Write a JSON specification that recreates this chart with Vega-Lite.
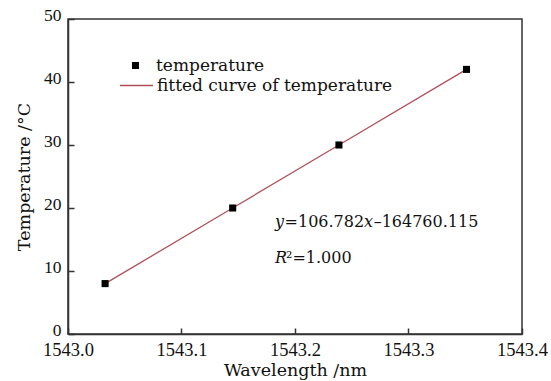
{
  "$schema": "https://vega.github.io/schema/vega-lite/v6.json",
  "width": 454,
  "height": 315,
  "autosize": "none",
  "padding": {"left": 68, "top": 19, "right": 29, "bottom": 47},
  "background": "white",
  "config": {
    "view": {"stroke": "#333333", "strokeWidth": 1.5},
    "axis": {
      "domainColor": "#333333",
      "domainWidth": 1.5,
      "tickColor": "#333333",
      "tickWidth": 1.5,
      "tickSize": -6,
      "grid": false,
      "labelFlush": false,
      "labelOverlap": false,
      "labelFont": "Liberation Serif",
      "labelFontSize": 18.5,
      "labelColor": "#111111",
      "titleFont": "DejaVu Serif",
      "titleFontSize": 17.5,
      "titleFontWeight": "normal",
      "titleColor": "#111111"
    },
    "legend": {
      "labelFont": "DejaVu Serif",
      "labelFontSize": 17,
      "labelColor": "#111111",
      "labelLimit": 400,
      "padding": 0
    }
  },
  "layer": [
    {
      "data": {
        "values": [
          {"wavelength": 1543.0327, "temperature": 8},
          {"wavelength": 1543.1451, "temperature": 20},
          {"wavelength": 1543.2387, "temperature": 30},
          {"wavelength": 1543.3511, "temperature": 42}
        ]
      },
      "layer": [
        {
          "mark": {"type": "line", "strokeWidth": 1.3},
          "encoding": {
            "x": {
              "field": "wavelength",
              "type": "quantitative",
              "scale": {"domain": [1543.0, 1543.4], "nice": false, "zero": false},
              "axis": {
                "title": "Wavelength /nm",
                "values": [1543.0, 1543.1, 1543.2, 1543.3, 1543.4],
                "format": ".1f",
                "labelPadding": 12,
                "titlePadding": 3
              }
            },
            "y": {
              "field": "temperature",
              "type": "quantitative",
              "scale": {"domain": [0, 50], "nice": false},
              "axis": {
                "title": "Temperature /°C",
                "values": [0, 10, 20, 30, 40, 50],
                "labelFontSize": 17.5,
                "labelPadding": 13,
                "labelOffset": -4,
                "titlePadding": 10
              }
            },
            "stroke": {
              "datum": "fitted curve of temperature",
              "type": "nominal",
              "scale": {"range": ["#b0505a"]},
              "legend": {
                "title": null,
                "orient": "none",
                "legendX": 51,
                "legendY": 49,
                "symbolSize": 1089,
                "symbolStrokeWidth": 1.5,
                "labelOffset": 3
              }
            }
          }
        },
        {
          "mark": {"type": "point", "filled": true, "color": "black", "size": 50, "opacity": 1},
          "encoding": {
            "x": {"field": "wavelength", "type": "quantitative"},
            "y": {"field": "temperature", "type": "quantitative"},
            "shape": {
              "datum": "temperature",
              "type": "nominal",
              "scale": {"range": ["square"]},
              "legend": {
                "title": null,
                "orient": "none",
                "legendX": 59,
                "legendY": 38,
                "symbolSize": 50,
                "symbolFillColor": "black",
                "symbolStrokeWidth": 0,
                "symbolOpacity": 1,
                "labelOffset": 12
              }
            }
          }
        }
      ]
    },
    {
      "data": {"values": [{}]},
      "mark": {"type": "text", "font": "DejaVu Serif", "fontSize": 16, "fontStyle": "italic", "align": "left", "baseline": "middle", "fill": "#111111"},
      "encoding": {"x": {"datum": 1543.1824}, "y": {"datum": 17.8}, "text": {"value": "y"}}
    },
    {
      "data": {"values": [{}]},
      "mark": {"type": "text", "font": "DejaVu Serif", "fontSize": 16, "align": "left", "baseline": "middle", "fill": "#111111"},
      "encoding": {"x": {"datum": 1543.1908}, "y": {"datum": 17.8}, "text": {"value": "=106.782"}}
    },
    {
      "data": {"values": [{}]},
      "mark": {"type": "text", "font": "DejaVu Serif", "fontSize": 16, "fontStyle": "italic", "align": "left", "baseline": "middle", "fill": "#111111"},
      "encoding": {"x": {"datum": 1543.2609}, "y": {"datum": 17.8}, "text": {"value": "x"}}
    },
    {
      "data": {"values": [{}]},
      "mark": {"type": "text", "font": "DejaVu Serif", "fontSize": 16, "align": "left", "baseline": "middle", "fill": "#111111"},
      "encoding": {"x": {"datum": 1543.2693}, "y": {"datum": 17.8}, "text": {"value": "–164760.115"}}
    },
    {
      "data": {"values": [{}]},
      "mark": {"type": "text", "font": "DejaVu Serif", "fontSize": 16, "fontStyle": "italic", "align": "left", "baseline": "middle", "fill": "#111111"},
      "encoding": {"x": {"datum": 1543.1824}, "y": {"datum": 12.06}, "text": {"value": "R"}}
    },
    {
      "data": {"values": [{}]},
      "mark": {"type": "text", "font": "DejaVu Serif", "fontSize": 16, "align": "left", "baseline": "middle", "fill": "#111111"},
      "encoding": {"x": {"datum": 1543.1921}, "y": {"datum": 12.06}, "text": {"value": "²=1.000"}}
    }
  ]
}
